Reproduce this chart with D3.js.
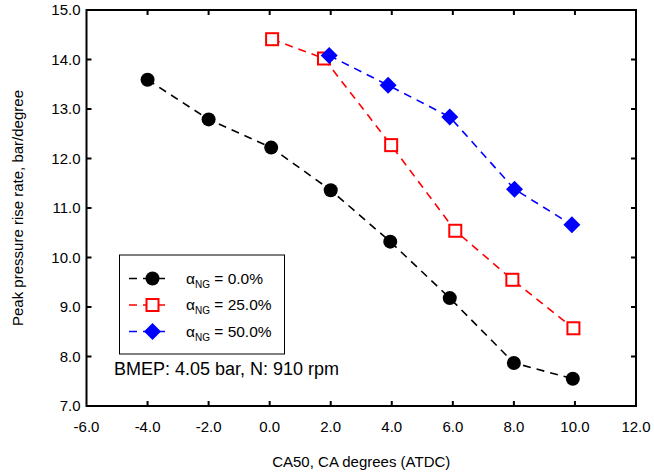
<!DOCTYPE html>
<html>
<head>
<meta charset="utf-8">
<style>
  body { margin: 0; background: #fff; }
  svg { font-family: 'Liberation Sans', Arial, sans-serif; }
  .tick-label { font-size: 15px; fill: #000; }
  .axis-title { font-size: 15px; fill: #000; }
  .legend-text { font-size: 15.5px; fill: #000; }
</style>
</head>
<body>
<svg width="654" height="476"></svg>
<script src="https://d3js.org/d3.v7.min.js"></script>
<script>
// data
let ca50_0 = [-4.0, -2.0, 0.05, 2.0, 3.95, 5.9, 8.0, 9.93];
let rate_0 = [13.59, 12.79, 12.22, 11.36, 10.32, 9.18, 7.87, 7.55];

let ca50_25 = [0.08, 1.78, 3.98, 6.08, 7.95, 9.95];
let rate_25 = [14.41, 14.02, 12.27, 10.54, 9.55, 8.57];

let ca50_50 = [1.95, 3.88, 5.9, 8.02, 9.9];
let rate_50 = [14.08, 13.48, 12.84, 11.38, 10.66];

let xTicks = [-6, -4, -2, 0, 2, 4, 6, 8, 10, 12];
let yTicks = [7, 8, 9, 10, 11, 12, 13, 14, 15];

let seriesNames = ["0.0%", "25.0%", "50.0%"];
let seriesColors = ["#000000", "#ff0000", "#0000ff"];

let svg = d3.select("svg");
let margin = { top: 10, right: 18, bottom: 70, left: 86.5 };
let width = 654, height = 476;

let x = d3.scaleLinear().domain([-6, 12]).range([margin.left, width - margin.right]);
let y = d3.scaleLinear().domain([7, 15]).range([height - margin.bottom, margin.top]);

// plain hyphen minus like the original
let fmt = d => d.toFixed(1);

// ticks (inside, all four sides)
let tl = 5;
let tickG = svg.append("g").attr("stroke", "#000").attr("stroke-width", 2);
xTicks.slice(1, -1).forEach(v => {
  tickG.append("line").attr("x1", x(v)).attr("x2", x(v)).attr("y1", y(7)).attr("y2", y(7) - tl);
  tickG.append("line").attr("x1", x(v)).attr("x2", x(v)).attr("y1", y(15)).attr("y2", y(15) + tl);
});
yTicks.slice(1, -1).forEach(v => {
  tickG.append("line").attr("x1", x(-6)).attr("x2", x(-6) + tl).attr("y1", y(v)).attr("y2", y(v));
  tickG.append("line").attr("x1", x(12)).attr("x2", x(12) - tl).attr("y1", y(v)).attr("y2", y(v));
});

// frame
svg.append("rect")
  .attr("x", x(-6)).attr("y", y(15))
  .attr("width", x(12) - x(-6)).attr("height", y(7) - y(15))
  .attr("fill", "none").attr("stroke", "#000").attr("stroke-width", 2);

// tick labels
svg.append("g").selectAll("text").data(xTicks).join("text")
  .attr("class", "tick-label")
  .attr("x", d => x(d)).attr("y", y(7) + 26)
  .attr("text-anchor", "middle")
  .text(fmt);

svg.append("g").selectAll("text").data(yTicks).join("text")
  .attr("class", "tick-label")
  .attr("x", x(-6) - 6).attr("y", d => y(d) + 5)
  .attr("text-anchor", "end")
  .text(fmt);

// axis titles
svg.append("text").attr("class", "axis-title")
  .attr("x", (x(-6) + x(12)) / 2).attr("y", height - 9)
  .attr("text-anchor", "middle")
  .text("CA50, CA degrees (ATDC)");

svg.append("text").attr("class", "axis-title")
  .attr("transform", `translate(23,${(y(7) + y(15)) / 2}) rotate(-90)`)
  .attr("text-anchor", "middle")
  .text("Peak pressure rise rate, bar/degree");

let line = d3.line().x(d => x(d[0])).y(d => y(d[1]));

function drawMarker(g, kind, cx, cy, color) {
  if (kind === 0) {
    g.append("circle").attr("cx", cx).attr("cy", cy).attr("r", 7).attr("fill", color);
  } else if (kind === 1) {
    g.append("rect").attr("x", cx - 6).attr("y", cy - 6).attr("width", 12).attr("height", 12)
      .attr("fill", "#fff").attr("stroke", color).attr("stroke-width", 2);
  } else {
    g.append("path")
      .attr("d", `M${cx},${cy - 8.5}L${cx + 8.5},${cy}L${cx},${cy + 8.5}L${cx - 8.5},${cy}Z`)
      .attr("fill", color);
  }
}

let allX = [ca50_0, ca50_25, ca50_50];
let allY = [rate_0, rate_25, rate_50];

allX.forEach((xs, i) => {
  let pts = xs.map((v, j) => [v, allY[i][j]]);
  let g = svg.append("g");
  g.append("path").datum(pts)
    .attr("d", line)
    .attr("fill", "none")
    .attr("stroke", seriesColors[i])
    .attr("stroke-width", 1.6)
    .attr("stroke-dasharray", "8,6");
  pts.forEach(p => drawMarker(g, i, x(p[0]), y(p[1]), seriesColors[i]));
});

// legend
let lg = svg.append("g");
lg.append("rect").attr("x", 119.5).attr("y", 255).attr("width", 165).attr("height", 99)
  .attr("fill", "#fff").attr("stroke", "#000").attr("stroke-width", 1);

let rowY = [278.5, 305, 331.5];
seriesNames.forEach((name, i) => {
  lg.append("line").attr("x1", 129).attr("x2", 171).attr("y1", rowY[i]).attr("y2", rowY[i])
    .attr("stroke", seriesColors[i]).attr("stroke-width", 1.6).attr("stroke-dasharray", "8,6");
  drawMarker(lg, i, 152.5, rowY[i], seriesColors[i]);
  let t = lg.append("text").attr("class", "legend-text").attr("x", 186).attr("y", rowY[i] + 5);
  t.append("tspan").text("\u03b1");
  t.append("tspan").attr("font-size", 10).attr("dy", 4).text("NG");
  t.append("tspan").attr("dy", -4).text(" = " + name);
});

svg.append("text")
  .attr("x", 114).attr("y", 375)
  .attr("font-size", 18)
  .text("BMEP: 4.05 bar, N: 910 rpm");
</script>
</body>
</html>
